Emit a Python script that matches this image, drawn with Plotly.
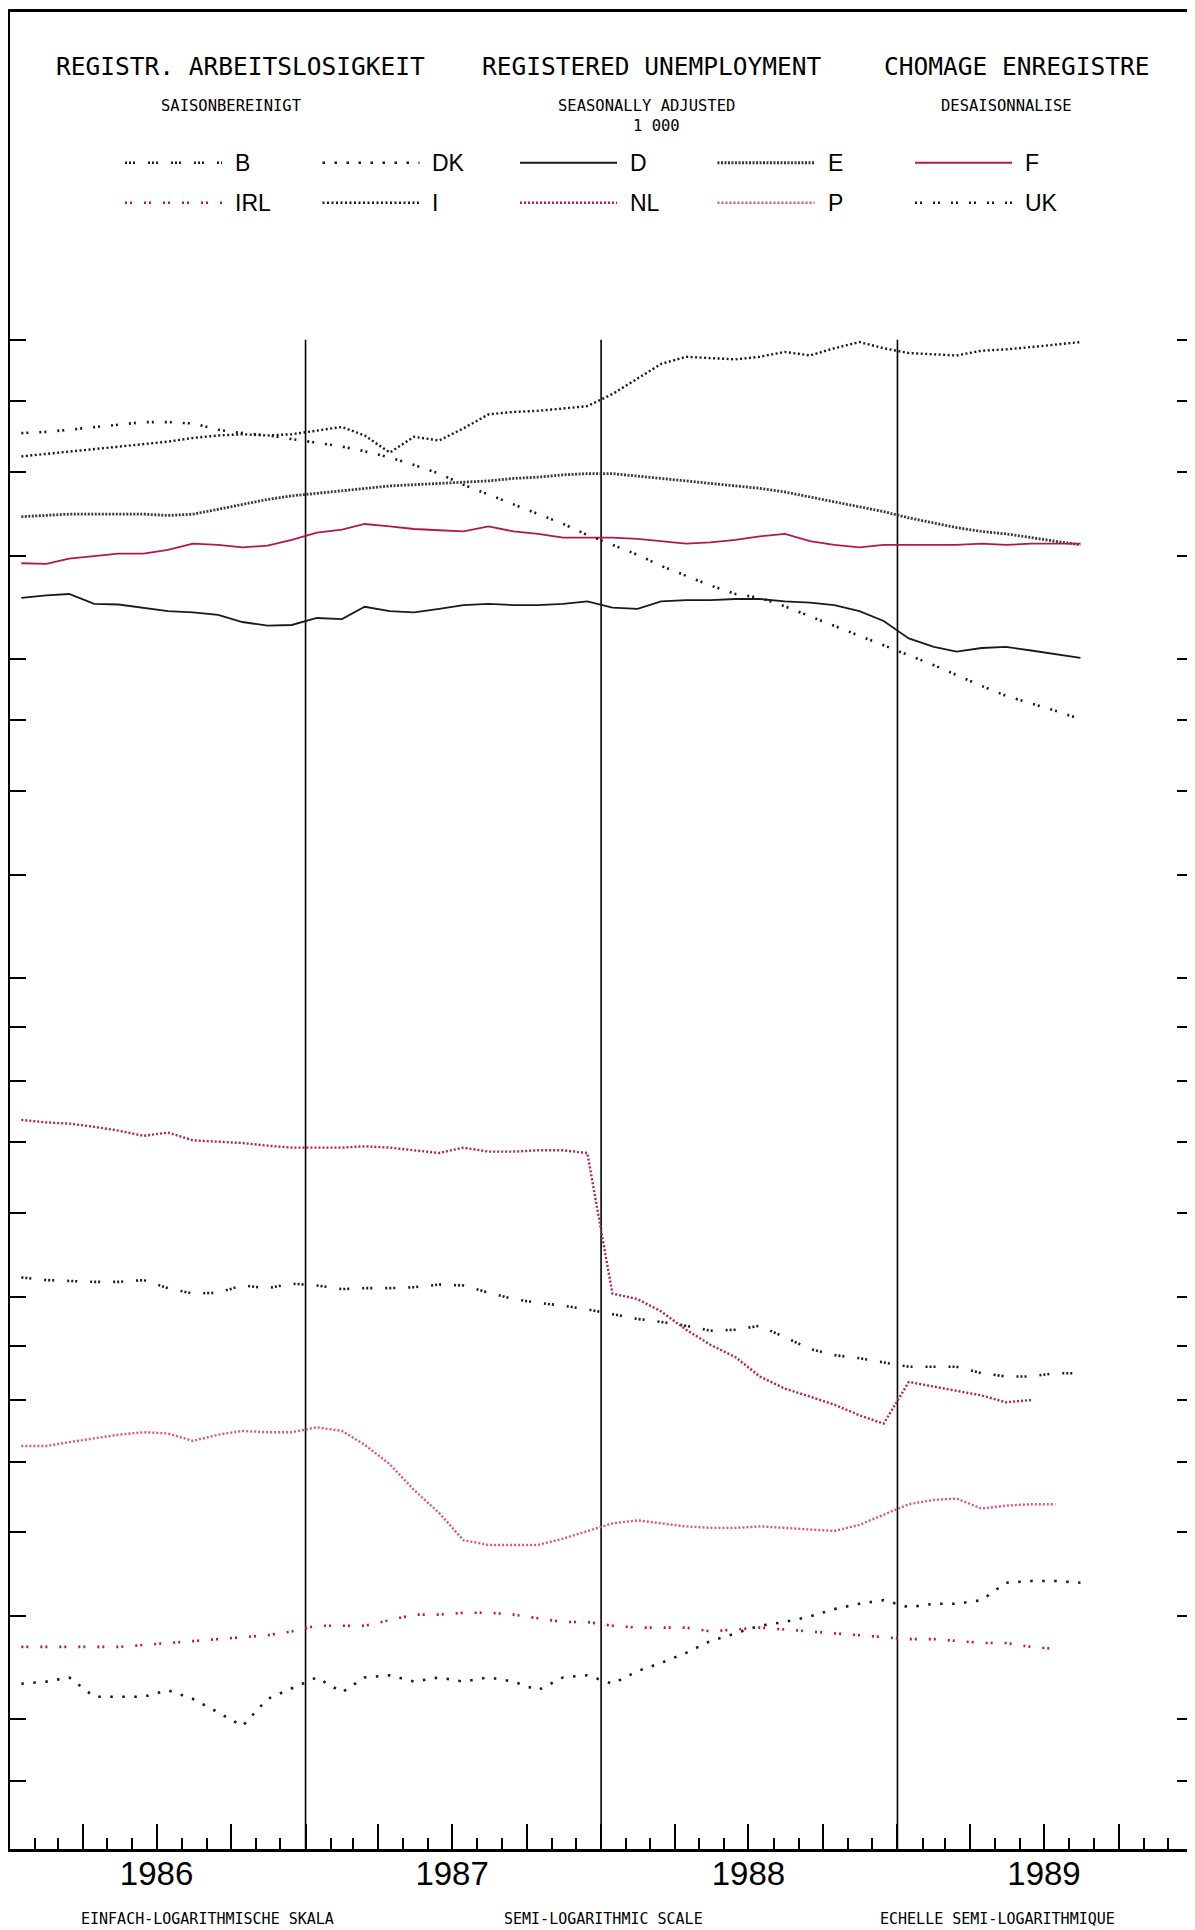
import pandas as pd
import plotly.graph_objects as go

# ---------------- data (thousands, seasonally adjusted, monthly from Jan 1986) ----------------
B = [522, 519, 518, 517, 517, 519, 510, 504, 505, 513, 510, 515, 513, 509, 510, 510, 511, 514, 513, 505,
     498, 494, 491, 487, 482, 477, 474, 470, 465, 466, 470, 458, 447, 441, 438, 434, 430, 430, 430, 424,
     421, 421, 424, 424]
DK = [216, 217, 219, 210, 210, 210, 213, 209, 203, 197, 209, 214, 219, 212, 219, 220, 217, 219, 217, 219,
      217, 213, 219, 220, 216, 222, 226, 231, 237, 241, 245, 247, 250, 254, 257, 259, 255, 257, 257, 259,
      269, 270, 270, 269]
D = [2284, 2296, 2303, 2254, 2251, 2233, 2219, 2213, 2201, 2167, 2150, 2153, 2186, 2181, 2240, 2219, 2213,
     2230, 2248, 2254, 2248, 2248, 2254, 2266, 2236, 2230, 2266, 2272, 2272, 2278, 2278, 2266, 2260, 2248,
     2219, 2172, 2091, 2053, 2032, 2048, 2053, 2037, 2021, 2005]
E = [2724, 2731, 2739, 2739, 2739, 2739, 2731, 2739, 2768, 2798, 2828, 2850, 2866, 2881, 2897, 2912, 2920,
     2928, 2936, 2944, 2960, 2968, 2983, 2991, 2991, 2976, 2960, 2944, 2928, 2912, 2897, 2874, 2843, 2813,
     2783, 2754, 2717, 2688, 2660, 2638, 2624, 2603, 2583, 2562]
F = [2462, 2459, 2487, 2501, 2514, 2514, 2534, 2569, 2562, 2548, 2558, 2590, 2631, 2649, 2681, 2667, 2652,
     2645, 2638, 2667, 2638, 2624, 2603, 2603, 2603, 2596, 2583, 2569, 2576, 2590, 2610, 2624, 2583, 2562,
     2548, 2562, 2562, 2562, 2562, 2569, 2562, 2569, 2569, 2569]
IRL = [234, 234, 234, 234, 234, 235, 236, 237, 238, 239, 240, 242, 245, 245, 245, 248, 251, 251, 252, 252,
       251, 249, 247, 247, 245, 244, 244, 244, 242, 243, 244, 243, 242, 241, 240, 239, 238, 238, 237, 236,
       236, 234, 233]
I = [3105, 3122, 3139, 3155, 3172, 3189, 3206, 3232, 3249, 3258, 3249, 3258, 3283, 3310, 3249, 3131, 3240,
     3214, 3300, 3402, 3420, 3428, 3445, 3463, 3555, 3680, 3795, 3855, 3843, 3833, 3855, 3896, 3866, 3927,
     3980, 3927, 3886, 3876, 3866, 3906, 3917, 3937, 3958, 3980]
NL = [735, 731, 729, 724, 718, 710, 715, 703, 701, 699, 695, 692, 692, 692, 694, 692, 688, 684, 692, 686,
      686, 688, 688, 684, 504, 498, 485, 466, 451, 439, 421, 410, 403, 396, 387, 380, 416, 412, 408, 404,
      398, 400]
P = [362, 362, 365, 368, 371, 373, 372, 366, 371, 374, 373, 373, 377, 374, 363, 348, 329, 313, 295, 292,
     292, 292, 296, 301, 306, 308, 306, 304, 303, 303, 304, 303, 302, 301, 305, 312, 319, 322, 323, 316,
     318, 319, 319]
UK = [3266, 3275, 3290, 3310, 3330, 3345, 3345, 3335, 3290, 3266, 3250, 3225, 3197, 3172, 3140, 3097, 3048,
      2991, 2920, 2858, 2800, 2740, 2682, 2618, 2562, 2508, 2448, 2397, 2346, 2303, 2284, 2242, 2195, 2150,
      2105, 2059, 2016, 1973, 1931, 1886, 1846, 1816, 1787, 1755]

COUNTRIES = ["B", "DK", "D", "E", "F", "IRL", "I", "NL", "P", "UK"]
SERIES = {"B": B, "DK": DK, "D": D, "E": E, "F": F, "IRL": IRL, "I": I, "NL": NL, "P": P, "UK": UK}
LEGEND_ROW1 = ["B", "DK", "D", "E", "F"]
LEGEND_ROW2 = ["IRL", "I", "NL", "P", "UK"]

YEARS = ["1986", "1987", "1988", "1989"]
Y_TICKS = [175, 200, 250, 300, 350, 400, 450, 500, 600, 700, 800, 900, 1000,
           1250, 1500, 1750, 2000, 2500, 3000, 3500, 4000]

TITLES = ["REGISTR. ARBEITSLOSIGKEIT", "REGISTERED UNEMPLOYMENT", "CHOMAGE ENREGISTRE"]
SUBTITLES = ["SAISONBEREINIGT", "SEASONALLY ADJUSTED", "DESAISONNALISE"]
UNIT = "1 000"
FOOTERS = ["EINFACH-LOGARITHMISCHE SKALA", "SEMI-LOGARITHMIC SCALE", "ECHELLE SEMI-LOGARITHMIQUE"]

# ---------------- styles ----------------
STYLE = {
    "B":   dict(color="#1a1a1a", width=2.6, dash="2px,2px,2px,2px,2px,13px"),
    "DK":  dict(color="#1a1a1a", width=2.6, dash="2.5px,9.5px"),
    "D":   dict(color="#1a1a1a", width=1.8, dash="solid"),
    "E":   dict(color="#3a3a3a", width=2.8, dash="2px,1.5px"),
    "F":   dict(color="#b3184c", width=1.8, dash="solid"),
    "IRL": dict(color="#c4133f", width=2.6, dash="2px,3px,2px,12px"),
    "I":   dict(color="#1a1a1a", width=2.4, dash="2px,2.5px"),
    "NL":  dict(color="#b8214f", width=2.4, dash="2px,2px"),
    "P":   dict(color="#dc5580", width=2.4, dash="2px,2px"),
    "UK":  dict(color="#1a1a1a", width=2.6, dash="2px,3px,2px,11px"),
}

# figure geometry (page offset of 8 px from the body margin)
W, H = 1195, 1930
OFF = 8
ML, MR, MT, MB = 2, 10, 1, 89
PW, PH = W - ML - MR, H - MT - MB
Y_LOG_RANGE = [2.1786, 3.9112]


def xp(px):  # page x -> paper x
    return (px - OFF - ML) / PW


def yp(py):  # page y -> paper y
    return (OFF + MT + PH - py) / PH


months = pd.date_range("1986-01-01", periods=44, freq="MS") + pd.Timedelta(days=14)

fig = go.Figure()

# year separator lines (from the axis up to the top tick level)
vx, vy = [], []
for yr in YEARS[1:]:
    vx += [f"{yr}-01-01", f"{yr}-01-01", None]
    vy += [10 ** Y_LOG_RANGE[0] * 0.9, max(Y_TICKS), None]
fig.add_trace(go.Scatter(x=vx, y=vy, mode="lines", line=dict(color="black", width=1.6),
                         hoverinfo="skip", showlegend=False))

for c in COUNTRIES:
    vals = SERIES[c]
    st = STYLE[c]
    fig.add_trace(go.Scatter(
        x=months[:len(vals)], y=vals, mode="lines", name=c,
        line=dict(color=st["color"], width=st["width"], dash=st["dash"]),
        showlegend=False, hoverinfo="skip"))

# x ticks: quarters (major), months (minor); year labels at mid-year
qt = pd.date_range("1986-01-01", "1990-01-01", freq="QS")
qtext = [str(d.year) if d.month == 7 and str(d.year) in YEARS else "" for d in qt]

fig.update_xaxes(
    type="date", range=["1986-01-01", "1990-01-01"],
    tickmode="array", tickvals=qt, ticktext=qtext,
    ticks="inside", ticklen=25, tickwidth=1.6, tickcolor="black",
    minor=dict(ticks="inside", dtick="M1", tick0="1986-01-01", ticklen=11, tickwidth=1.6,
               tickcolor="black", showgrid=False),
    showline=True, linewidth=3, linecolor="black", mirror=True,
    showgrid=False, zeroline=False,
    tickfont=dict(family="Liberation Sans, Arial, sans-serif", size=33, color="black"),
    ticklabelstandoff=-7,
)
fig.update_yaxes(
    type="log", range=Y_LOG_RANGE,
    tickmode="array", tickvals=Y_TICKS, showticklabels=False,
    ticks="inside", ticklen=16, tickwidth=2.4, tickcolor="black",
    showline=True, linewidth=3, linecolor="black", mirror="ticks",
    showgrid=False, zeroline=False,
)

annotations = []
shapes = []
mono = "DejaVu Sans Mono, monospace"

for txt, cx in zip(TITLES, [240, 652, 1017]):
    annotations.append(dict(text=txt, x=xp(cx), y=yp(64), xref="paper", yref="paper",
                            showarrow=False, xanchor="center", yanchor="middle",
                            font=dict(family=mono, size=24.5, color="black")))
for txt, cx in zip(SUBTITLES, [231, 646, 1006]):
    annotations.append(dict(text=txt, x=xp(cx), y=yp(103), xref="paper", yref="paper",
                            showarrow=False, xanchor="center", yanchor="middle",
                            font=dict(family=mono, size=15.5, color="black")))
annotations.append(dict(text=UNIT, x=xp(656), y=yp(123), xref="paper", yref="paper",
                        showarrow=False, xanchor="center", yanchor="middle",
                        font=dict(family=mono, size=15.5, color="black")))
for txt, cx in zip(FOOTERS, [207, 603, 997]):
    annotations.append(dict(text=txt, x=xp(cx), y=yp(1919), xref="paper", yref="paper",
                            showarrow=False, xanchor="center", yanchor="middle",
                            font=dict(family=mono, size=15, color="black")))

# legend (two rows of five)
for row, (items, py) in enumerate([(LEGEND_ROW1, 160), (LEGEND_ROW2, 200)]):
    for k, c in enumerate(items):
        st = STYLE[c]
        x0 = 125 + 197.5 * k
        shapes.append(dict(type="line", xref="paper", yref="paper",
                           x0=xp(x0), x1=xp(x0 + 97), y0=yp(py), y1=yp(py),
                           line=dict(color=st["color"], width=st["width"], dash=st["dash"])))
        annotations.append(dict(text=c, x=xp(x0 + 108), y=yp(py), xref="paper", yref="paper",
                                showarrow=False, xanchor="left", yanchor="middle",
                                font=dict(family="Liberation Sans, Arial, sans-serif", size=23,
                                          color="black")))

fig.update_layout(
    width=W, height=H,
    margin=dict(l=ML, r=MR, t=MT, b=MB, pad=0),
    paper_bgcolor="white", plot_bgcolor="white",
    showlegend=False, hovermode=False,
    annotations=annotations, shapes=shapes,
)

fig.write_html("out.html")
